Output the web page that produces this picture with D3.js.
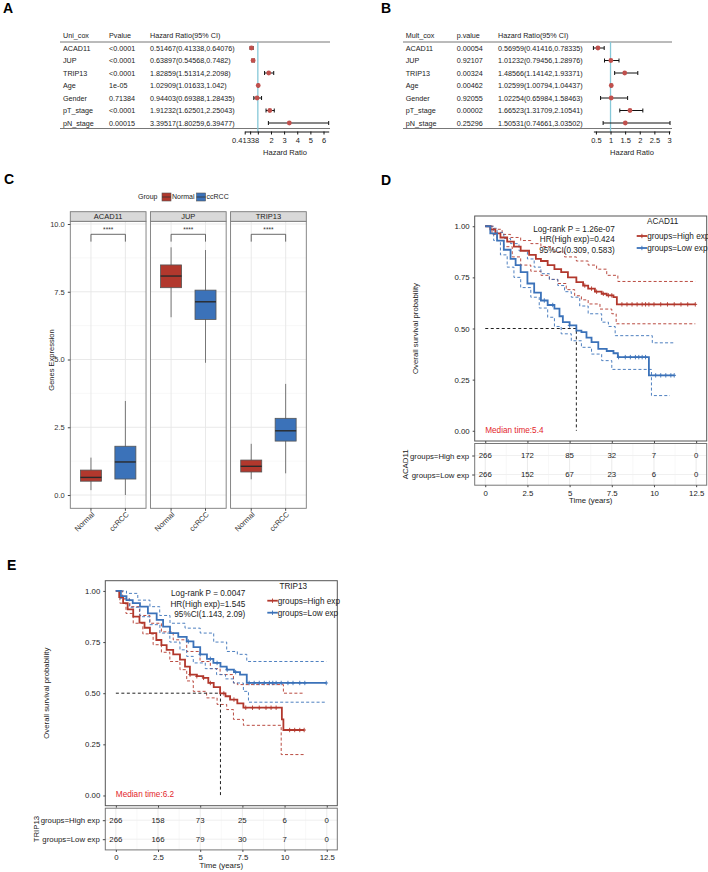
<!DOCTYPE html>
<html>
<head>
<meta charset="utf-8">
<script src="https://cdn.jsdelivr.net/npm/d3@7"></script>
<style>
body { margin: 0; background: #fff; }
text { font-family: "Liberation Sans", Arial, sans-serif; }
</style>
</head>
<body>
<div id="canvas"></div>
<script>
// ---- panel A / B: cox tables ----
var coxRows = ['ACAD11', 'JUP', 'TRIP13', 'Age', 'Gender', 'pT_stage', 'pN_stage'];
var uniP = ['<0.0001', '<0.0001', '<0.0001', '1e-05', '0.71384', '<0.0001', '0.00015'];
var uniHR = [0.51467, 0.63897, 1.82859, 1.02909, 0.94403, 1.91232, 3.39517];
var uniLo = [0.41338, 0.54568, 1.51314, 1.01633, 0.69388, 1.62501, 1.80259];
var uniHi = [0.64076, 0.7482, 2.2098, 1.042, 1.28435, 2.25043, 6.39477];
var uniTicks = [0, 0.41338, 1, 2, 3, 4, 5, 6];
var multP = ['0.00054', '0.92107', '0.00324', '0.00462', '0.92055', '0.00002', '0.25296'];
var multHR = [0.56959, 1.01232, 1.48566, 1.02599, 1.02254, 1.66523, 1.50531];
var multLo = [0.41416, 0.79456, 1.14142, 1.00794, 0.65984, 1.31709, 0.74661];
var multHi = [0.78335, 1.28976, 1.93371, 1.04437, 1.58463, 2.10541, 3.03502];
var multTicks = [0.5, 1, 1.5, 2, 2.5, 3];

// ---- panel C: boxplots ----
var genes = ['ACAD11', 'JUP', 'TRIP13'];
var groups = ['Normal', 'ccRCC'];
var boxLow = [[0.18, 0.00], [6.56, 4.88], [0.58, 0.80]];
var boxQ1 = [[0.51, 0.59], [7.65, 6.48], [0.85, 1.99]];
var boxMed = [[0.65, 1.22], [8.08, 7.13], [1.06, 2.37]];
var boxQ3 = [[0.92, 1.80], [8.49, 7.56], [1.29, 2.83]];
var boxHigh = [[1.38, 3.47], [9.14, 9.04], [1.89, 4.10]];
var sigLabels = ['****', '****', '****'];
var exprTicks = [0, 2.5, 5, 7.5, 10];

// ---- panel D / E: survival ----
var timeTicks = [0, 2.5, 5, 7.5, 10, 12.5];
var survTicks = [0, 0.25, 0.5, 0.75, 1];
var riskGroups = ['groups=High exp', 'groups=Low exp'];

var acadHigh = [[0,1],[0.3,0.985],[0.6,0.965],[0.9,0.945],[1.3,0.925],[1.7,0.9],[2.1,0.88],[2.6,0.86],[3.0,0.84],[3.3,0.83],[3.7,0.81],[4.1,0.79],[4.5,0.776],[4.9,0.75],[5.4,0.727],[5.8,0.71],[6.1,0.695],[6.5,0.68],[6.9,0.67],[7.2,0.662],[7.6,0.653],[7.8,0.618],[12.45,0.618]];
var acadHighUp = [[0,1],[0.5,0.985],[1.0,0.96],[1.5,0.945],[2.1,0.93],[2.7,0.915],[3.3,0.9],[4.0,0.875],[4.7,0.85],[5.4,0.83],[6.1,0.81],[6.6,0.79],[7.2,0.76],[7.86,0.73],[12.45,0.73]];
var acadHighLo = [[0,1],[0.4,0.96],[0.7,0.93],[1.1,0.9],[1.6,0.85],[2.1,0.81],[2.7,0.78],[3.3,0.76],[3.8,0.74],[4.3,0.72],[4.8,0.69],[5.3,0.66],[5.7,0.64],[6.1,0.62],[6.8,0.595],[7.5,0.572],[7.76,0.523],[12.45,0.523]];
var acadLow = [[0,1],[0.3,0.965],[0.7,0.93],[1.1,0.885],[1.5,0.84],[1.8,0.81],[2.1,0.776],[2.5,0.72],[2.9,0.675],[3.3,0.637],[3.7,0.615],[4.1,0.597],[4.4,0.56],[4.6,0.531],[5.0,0.515],[5.4,0.49],[5.7,0.482],[6.0,0.455],[6.3,0.433],[6.7,0.4],[7.2,0.39],[7.6,0.379],[7.86,0.36],[9.7,0.271],[11.2,0.271]];
var acadLowUp = [[0,1],[0.3,0.99],[0.7,0.97],[1.1,0.94],[1.5,0.915],[2.0,0.88],[2.5,0.84],[2.9,0.8],[3.3,0.768],[3.8,0.74],[4.3,0.71],[4.7,0.68],[5.1,0.653],[5.6,0.61],[6.1,0.572],[6.9,0.531],[7.3,0.51],[7.7,0.465],[9.9,0.43],[11.2,0.43]];
var acadLowLo = [[0,1],[0.5,0.93],[0.9,0.86],[1.3,0.8],[1.7,0.75],[2.1,0.7],[2.7,0.653],[3.2,0.6],[3.7,0.555],[4.1,0.51],[4.5,0.474],[5.1,0.44],[5.7,0.408],[6.3,0.375],[6.9,0.343],[7.5,0.3],[9.85,0.172],[10.94,0.172]];
var acadHighCens = [5.9, 6.3, 6.6, 7.0, 7.3, 7.5, 8.1, 8.4, 8.7, 9.0, 9.3, 9.5, 9.7, 10.0, 10.4, 10.8, 11.2, 11.6, 12.0, 12.45];
var acadLowCens = [3.5, 4.0, 5.0, 7.9, 8.3, 8.6, 8.9, 9.1, 9.3, 9.5, 10.1, 10.4, 10.7, 11.0, 11.2];
var acadRiskHigh = [266, 172, 85, 32, 7, 0];
var acadRiskLow = [266, 152, 67, 23, 6, 0];
var acadStats = ['Log-rank P = 1.26e-07', 'HR(High exp)=0.424', '95%CI(0.309, 0.583)'];
var acadMedian = 5.4;

var tripHigh = [[0,1],[0.2,0.97],[0.43,0.94],[0.7,0.91],[1.03,0.874],[1.4,0.845],[1.7,0.82],[2.02,0.794],[2.4,0.76],[2.7,0.735],[3.01,0.712],[3.4,0.69],[3.8,0.664],[4.1,0.63],[4.39,0.591],[4.8,0.583],[5.18,0.575],[5.48,0.55],[5.8,0.53],[6.18,0.499],[6.5,0.485],[6.77,0.469],[7.2,0.45],[7.56,0.429],[9.84,0.372],[9.93,0.32],[11.16,0.32]];
var tripHighUp = [[0,1],[0.4,0.96],[0.83,0.923],[1.4,0.88],[2.02,0.842],[2.7,0.8],[3.4,0.761],[4.2,0.704],[4.99,0.655],[5.6,0.62],[6.18,0.591],[6.97,0.55],[7.2,0.542],[9.93,0.5],[11.16,0.5]];
var tripHighLo = [[0,1],[0.24,0.94],[0.6,0.89],[1.03,0.842],[1.6,0.79],[2.21,0.737],[2.7,0.7],[3.2,0.655],[3.8,0.615],[4.2,0.56],[4.59,0.509],[5.38,0.477],[6.0,0.445],[6.57,0.42],[6.97,0.372],[7.56,0.343],[9.8,0.2],[11.16,0.2]];
var tripLow = [[0,1],[0.3,0.975],[0.63,0.955],[1.0,0.94],[1.43,0.923],[1.9,0.89],[2.42,0.858],[2.8,0.825],[3.21,0.794],[3.7,0.775],[4.2,0.753],[4.6,0.725],[5.0,0.69],[5.4,0.668],[5.78,0.648],[6.2,0.63],[6.57,0.615],[7.0,0.603],[7.36,0.591],[7.76,0.55],[12.47,0.55]];
var tripLowUp = [[0,1],[0.63,0.988],[1.3,0.955],[2.02,0.923],[2.6,0.88],[3.21,0.842],[4.1,0.818],[5.0,0.794],[5.8,0.75],[6.57,0.704],[7.2,0.69],[7.76,0.655],[12.47,0.655]];
var tripLowLo = [[0,1],[0.24,0.964],[0.8,0.92],[1.43,0.874],[2.0,0.835],[2.61,0.794],[3.2,0.75],[3.8,0.712],[4.2,0.68],[4.59,0.648],[5.3,0.62],[5.97,0.591],[6.5,0.57],[6.97,0.55],[7.56,0.509],[7.86,0.456],[12.47,0.456]];
var tripHighCens = [4.4, 4.8, 5.2, 5.6, 6.4, 7.0, 7.7, 8.1, 8.5, 8.9, 9.2, 9.5, 10.3, 10.6, 10.9, 11.16];
var tripLowCens = [4.3, 5.0, 5.6, 6.0, 6.6, 7.1, 7.9, 8.2, 8.5, 8.8, 9.1, 9.3, 9.5, 9.8, 10.2, 10.5, 10.9, 11.2, 12.47];
var tripRiskHigh = [266, 158, 73, 25, 6, 0];
var tripRiskLow = [266, 166, 79, 30, 7, 0];
var tripStats = ['Log-rank P = 0.0047', 'HR(High exp)=1.545', '95%CI(1.143, 2.09)'];
var tripMedian = 6.2;

var RED = '#B2382D', BLUE = '#3B72B9';

var svg = d3.select('#canvas').append('svg')
    .attr('width', 708)
    .attr('height', 872);

svg.append('rect').attr('width', 708).attr('height', 872).attr('fill', '#fff');

// panel letters
[['A', 3, 13], ['B', 381, 13], ['C', 4, 184], ['D', 381, 185], ['E', 7, 570]].forEach(function(l) {
    svg.append('text').attr('x', l[1]).attr('y', l[2])
        .attr('font-size', '14px').attr('font-weight', 'bold').text(l[0]);
});

// ---------- forest plots ----------
function forest(cfg) {
    var g = svg.append('g');
    var y = d3.scalePoint().domain(coxRows).range([48, 123]);
    var x = d3.scaleLinear().domain(cfg.domain).range(cfg.range);

    g.append('line').attr('x1', cfg.lineX[0]).attr('x2', cfg.lineX[1])
        .attr('y1', 42).attr('y2', 42).attr('stroke', '#777').attr('stroke-width', 1);
    g.append('line').attr('x1', cfg.lineX[0]).attr('x2', cfg.lineX[1])
        .attr('y1', 128.5).attr('y2', 128.5).attr('stroke', '#777').attr('stroke-width', 1);

    cfg.header.forEach(function(h, i) {
        g.append('text').attr('x', cfg.cols[i]).attr('y', 37.5)
            .attr('font-size', '7.2px').attr('fill', '#222').text(h);
    });

    coxRows.forEach(function(r, i) {
        var cells = [r, cfg.p[i], cfg.hr[i] + '(' + cfg.lo[i] + ',' + cfg.hi[i] + ')'];
        cells.forEach(function(c, j) {
            g.append('text').attr('x', cfg.cols[j]).attr('y', y(r)).attr('dy', '0.35em')
                .attr('font-size', '7.2px').attr('fill', '#222').text(c);
        });
    });

    // reference line at HR = 1
    g.append('line').attr('x1', x(1)).attr('x2', x(1)).attr('y1', 42).attr('y2', 131.5)
        .attr('stroke', '#86C8D8').attr('stroke-width', 1.3);

    coxRows.forEach(function(r, i) {
        var yy = y(r);
        g.append('line').attr('x1', x(cfg.lo[i])).attr('x2', x(cfg.hi[i]))
            .attr('y1', yy).attr('y2', yy).attr('stroke', '#111').attr('stroke-width', 1);
        [cfg.lo[i], cfg.hi[i]].forEach(function(v) {
            g.append('line').attr('x1', x(v)).attr('x2', x(v))
                .attr('y1', yy - 2).attr('y2', yy + 2).attr('stroke', '#111').attr('stroke-width', 1);
        });
        g.append('circle').attr('cx', x(cfg.hr[i])).attr('cy', yy).attr('r', 2.4)
            .attr('fill', '#C0504D');
    });

    var axis = g.append('g').attr('transform', 'translate(0,131.5)')
        .call(d3.axisBottom(x).tickValues(cfg.ticks).tickSize(3).tickSizeOuter(0)
            .tickFormat(cfg.fmt));
    axis.select('.domain').attr('stroke', '#111');
    axis.selectAll('.tick line').attr('stroke', '#111');
    axis.selectAll('text').attr('font-size', '7.5px').attr('fill', '#222')
        .attr('font-family', '"Liberation Sans", Arial, sans-serif');
    axis.selectAll('text').filter(function(d) { return d === 0.41338; }).attr('dx', '-5');

    g.append('text').attr('x', cfg.titleX).attr('y', 155).attr('text-anchor', 'middle')
        .attr('font-size', '7.5px').attr('fill', '#222').text('Hazard Ratio');
}

forest({
    header: ['Uni_cox', 'Pvalue', 'Hazard Ratio(95% CI)'],
    cols: [63, 109, 150], lineX: [60, 330],
    p: uniP, hr: uniHR, lo: uniLo, hi: uniHi,
    domain: [0, 6.39477], range: [244.7, 328.7],
    ticks: uniTicks,
    fmt: function(d) { return (d === 0 || d === 1) ? '' : d; },
    titleX: 285
});

forest({
    header: ['Mult_cox', 'p.value', 'Hazard Ratio(95% CI)'],
    cols: [405.7, 456.7, 498], lineX: [403, 672],
    p: multP, hr: multHR, lo: multLo, hi: multHi,
    domain: [0.41416, 3.03502], range: [593.4, 670],
    ticks: multTicks,
    fmt: function(d) { return d; },
    titleX: 632
});

// ---------- panel C: boxplots ----------
(function() {
    var g = svg.append('g');
    var cY = d3.scaleLinear().domain([-0.49, 10.1]).range([508.3, 221.3]);
    var facet = d3.scaleBand().domain(genes).range([70.3, 306.3]).paddingInner(0.055);
    var cX = d3.scalePoint().domain(groups).range([0, facet.bandwidth()]).padding(0.6);
    var color = d3.scaleOrdinal().domain(groups).range([RED, BLUE]);
    var boxW = 21;

    // legend
    g.append('text').attr('x', 138).attr('y', 197).attr('dy', '0.35em')
        .attr('font-size', '7px').attr('fill', '#222').text('Group');
    var lx = 162;
    groups.forEach(function(gr) {
        g.append('rect').attr('x', lx).attr('y', 193).attr('width', 9).attr('height', 8)
            .attr('fill', color(gr)).attr('stroke', '#555').attr('stroke-width', 0.6);
        g.append('line').attr('x1', lx).attr('x2', lx + 9).attr('y1', 197).attr('y2', 197)
            .attr('stroke', '#333').attr('stroke-width', 0.8);
        var tx = g.append('text').attr('x', lx + 10).attr('y', 197).attr('dy', '0.35em')
            .attr('font-size', '7px').attr('fill', '#222').text(gr);
        lx += 10 + tx.node().getComputedTextLength() + 2;
    });

    genes.forEach(function(gene, gi) {
        var x0 = facet(gene), bw = facet.bandwidth();
        var p = g.append('g').attr('transform', 'translate(' + x0 + ',0)');
        // minor grid
        [1.25, 3.75, 6.25, 8.75].forEach(function(v) {
            p.append('line').attr('x1', 0).attr('x2', bw).attr('y1', cY(v)).attr('y2', cY(v))
                .attr('stroke', '#F3F3F3').attr('stroke-width', 0.6);
        });
        exprTicks.forEach(function(v) {
            p.append('line').attr('x1', 0).attr('x2', bw).attr('y1', cY(v)).attr('y2', cY(v))
                .attr('stroke', '#E6E6E6').attr('stroke-width', 0.9);
        });
        groups.forEach(function(gr) {
            p.append('line').attr('x1', cX(gr)).attr('x2', cX(gr)).attr('y1', 221.3).attr('y2', 508.3)
                .attr('stroke', '#E6E6E6').attr('stroke-width', 0.9);
        });

        groups.forEach(function(gr, k) {
            var cx = cX(gr);
            p.append('line').attr('x1', cx).attr('x2', cx)
                .attr('y1', cY(boxLow[gi][k])).attr('y2', cY(boxHigh[gi][k]))
                .attr('stroke', '#777').attr('stroke-width', 1);
            p.append('rect').attr('x', cx - boxW / 2).attr('width', boxW)
                .attr('y', cY(boxQ3[gi][k])).attr('height', cY(boxQ1[gi][k]) - cY(boxQ3[gi][k]))
                .attr('fill', color(gr)).attr('stroke', '#555').attr('stroke-width', 0.8);
            p.append('line').attr('x1', cx - boxW / 2).attr('x2', cx + boxW / 2)
                .attr('y1', cY(boxMed[gi][k])).attr('y2', cY(boxMed[gi][k]))
                .attr('stroke', '#2a2a2a').attr('stroke-width', 1.4);
        });

        // significance bracket
        var a = cX(groups[0]), b = cX(groups[1]);
        p.append('path')
            .attr('d', 'M' + a + ',' + cY(9.35) + 'V' + cY(9.62) + 'H' + b + 'V' + cY(9.35))
            .attr('fill', 'none').attr('stroke', '#444').attr('stroke-width', 0.8);
        p.append('text').attr('x', (a + b) / 2).attr('y', cY(9.8)).attr('dy', '0.35em')
            .attr('text-anchor', 'middle').attr('font-size', '6.5px').attr('fill', '#333')
            .text(sigLabels[gi]);

        // panel border + strip
        p.append('rect').attr('x', 0).attr('y', 221.3).attr('width', bw).attr('height', 287)
            .attr('fill', 'none').attr('stroke', '#7a7a7a').attr('stroke-width', 0.9);
        p.append('rect').attr('x', 0).attr('y', 211.7).attr('width', bw).attr('height', 9.6)
            .attr('fill', '#D9D9D9').attr('stroke', '#7a7a7a').attr('stroke-width', 0.9);
        p.append('text').attr('x', bw / 2).attr('y', 216.5).attr('dy', '0.35em')
            .attr('text-anchor', 'middle').attr('font-size', '7.5px').attr('fill', '#222').text(gene);

        // rotated x labels
        groups.forEach(function(gr) {
            p.append('line').attr('x1', cX(gr)).attr('x2', cX(gr)).attr('y1', 508.3).attr('y2', 510.8)
                .attr('stroke', '#444');
            p.append('text').attr('transform', 'translate(' + (cX(gr) + 2) + ',513) rotate(-45)')
                .attr('text-anchor', 'end').attr('dy', '0.35em')
                .attr('font-size', '7.5px').attr('fill', '#333').text(gr);
        });
    });

    var ax = g.append('g').attr('transform', 'translate(70.3,0)')
        .call(d3.axisLeft(cY).tickValues(exprTicks).tickSize(2.5).tickFormat(d3.format('.1f')));
    ax.select('.domain').remove();
    ax.selectAll('.tick line').attr('stroke', '#444');
    ax.selectAll('text').attr('font-size', '7.5px').attr('fill', '#333')
        .attr('font-family', '"Liberation Sans", Arial, sans-serif');

    g.append('text').attr('transform', 'translate(51,360) rotate(-90)')
        .attr('text-anchor', 'middle').attr('dy', '0.35em')
        .attr('font-size', '7.5px').attr('fill', '#222').text('Genes Expression');
})();

// ---------- survival panels ----------
function drawKM(cfg) {
    var w = 232, h = 225;
    var g = svg.append('g').attr('transform', 'translate(' + cfg.left + ',' + cfg.top + ')');
    var x = d3.scaleLinear().domain([-0.625, 13.125]).range([0, w]);
    var y = d3.scaleLinear().domain([-0.05, 1.05]).range([h, 0]);
    var line = d3.line().curve(d3.curveStepAfter)
        .x(function(d) { return x(d[0]); })
        .y(function(d) { return y(d[1]); });

    function stepAt(curve, t) {
        var s = curve[0][1];
        curve.forEach(function(d) { if (d[0] <= t) s = d[1]; });
        return s;
    }

    // confidence bands
    [[cfg.highUp, RED], [cfg.highLo, RED], [cfg.lowUp, BLUE], [cfg.lowLo, BLUE]].forEach(function(c) {
        g.append('path').attr('d', line(c[0])).attr('fill', 'none')
            .attr('stroke', c[1]).attr('stroke-width', 1).attr('stroke-dasharray', '3,2.2')
            .attr('opacity', 0.9);
    });

    // median lines
    g.append('path')
        .attr('d', 'M' + x(0) + ',' + y(0.5) + 'H' + x(cfg.median) + 'V' + y(0))
        .attr('fill', 'none').attr('stroke', '#222').attr('stroke-width', 1)
        .attr('stroke-dasharray', '3,2.5');

    [[cfg.high, cfg.highCens, RED], [cfg.low, cfg.lowCens, BLUE]].forEach(function(c) {
        g.append('path').attr('d', line(c[0])).attr('fill', 'none')
            .attr('stroke', c[2]).attr('stroke-width', 1.8);
        c[1].forEach(function(t) {
            var cx = x(t), cy = y(stepAt(c[0], t));
            g.append('path').attr('d', 'M' + (cx - 1.8) + ',' + cy + 'h3.6M' + cx + ',' + (cy - 2.2) + 'v4.4')
                .attr('stroke', c[2]).attr('stroke-width', 0.9);
        });
    });

    g.append('rect').attr('width', w).attr('height', h).attr('fill', 'none')
        .attr('stroke', '#555').attr('stroke-width', 1);

    var ya = g.append('g')
        .call(d3.axisLeft(y).tickValues(survTicks).tickSize(2).tickFormat(d3.format('.2f')));
    ya.select('.domain').remove();
    ya.selectAll('.tick line').attr('stroke', '#444');
    ya.selectAll('text').attr('font-size', '7.8px').attr('fill', '#222')
        .attr('font-family', '"Liberation Sans", Arial, sans-serif');

    var xb = g.append('g').attr('transform', 'translate(0,' + h + ')')
        .call(d3.axisBottom(x).tickValues(timeTicks).tickSize(2).tickFormat(''));
    xb.select('.domain').remove();
    xb.selectAll('.tick line').attr('stroke', '#444');

    g.append('text').attr('transform', 'translate(-59,' + (h / 2) + ') rotate(-90)')
        .attr('text-anchor', 'middle').attr('dy', '0.35em')
        .attr('font-size', '7.8px').attr('fill', '#222').text('Overall survival probability');

    // stats text
    cfg.stats.forEach(function(s, i) {
        g.append('text').attr('x', 140).attr('y', 12.8 + i * 10.5).attr('dy', '0.35em')
            .attr('text-anchor', 'end').attr('font-size', '8.2px').attr('fill', '#222').text(s);
    });

    // legend
    g.append('text').attr('x', 188).attr('y', 5.5).attr('dy', '0.35em').attr('text-anchor', 'middle')
        .attr('font-size', '8.2px').attr('fill', '#222').text(cfg.gene);
    [RED, BLUE].forEach(function(col, i) {
        var ly = 20 + i * 12;
        g.append('line').attr('x1', 162).attr('x2', 172.5).attr('y1', ly).attr('y2', ly)
            .attr('stroke', col).attr('stroke-width', 1.8);
        g.append('path').attr('d', 'M167.2,' + (ly - 2.2) + 'v4.4').attr('stroke', col).attr('stroke-width', 0.9);
        g.append('text').attr('x', 172.5).attr('y', ly).attr('dy', '0.35em')
            .attr('font-size', '8.2px').attr('fill', '#222').text(riskGroups[i]);
    });

    g.append('text').attr('x', x(0)).attr('y', y(0) - 1).attr('dy', '0.35em')
        .attr('font-size', '8.2px').attr('fill', '#E3262B').text('Median time:' + cfg.median);

    // risk table
    var tt = h + 2.5, th = 41.7;
    var t = g.append('g').attr('transform', 'translate(0,' + tt + ')');
    var ry = d3.scalePoint().domain(riskGroups).range([12, 31]);
    [1.25, 3.75, 6.25, 8.75, 11.25].forEach(function(v) {
        t.append('line').attr('x1', x(v)).attr('x2', x(v)).attr('y1', 0).attr('y2', th)
            .attr('stroke', '#F3F3F3').attr('stroke-width', 0.6);
    });
    timeTicks.forEach(function(v) {
        t.append('line').attr('x1', x(v)).attr('x2', x(v)).attr('y1', 0).attr('y2', th)
            .attr('stroke', '#E8E8E8').attr('stroke-width', 0.9);
    });
    riskGroups.forEach(function(r) {
        t.append('line').attr('x1', 0).attr('x2', w).attr('y1', ry(r)).attr('y2', ry(r))
            .attr('stroke', '#EEEEEE').attr('stroke-width', 0.9);
    });
    [cfg.riskHigh, cfg.riskLow].forEach(function(vals, i) {
        vals.forEach(function(v, j) {
            t.append('text').attr('x', x(timeTicks[j])).attr('y', ry(riskGroups[i])).attr('dy', '0.35em')
                .attr('text-anchor', 'middle').attr('font-size', '7.8px').attr('fill', '#222').text(v);
        });
    });
    t.append('rect').attr('width', w).attr('height', th).attr('fill', 'none')
        .attr('stroke', '#777').attr('stroke-width', 1);
    var ra = t.append('g').call(d3.axisLeft(ry).tickSize(2.5));
    ra.select('.domain').remove();
    ra.selectAll('.tick line').attr('stroke', '#444');
    ra.selectAll('text').attr('font-size', '7.8px').attr('fill', '#222')
        .attr('font-family', '"Liberation Sans", Arial, sans-serif');
    t.append('text').attr('transform', 'translate(-69,' + (th / 2) + ') rotate(-90)')
        .attr('text-anchor', 'middle').attr('dy', '0.35em')
        .attr('font-size', '7.8px').attr('fill', '#222').text(cfg.gene);

    var xa = t.append('g').attr('transform', 'translate(0,' + th + ')')
        .call(d3.axisBottom(x).tickValues(timeTicks).tickSize(2).tickFormat(function(d) { return d; }));
    xa.select('.domain').remove();
    xa.selectAll('.tick line').attr('stroke', '#444');
    xa.selectAll('text').attr('font-size', '7.8px').attr('fill', '#222')
        .attr('font-family', '"Liberation Sans", Arial, sans-serif');
    t.append('text').attr('x', w / 2).attr('y', th + 18).attr('text-anchor', 'middle')
        .attr('font-size', '7.8px').attr('fill', '#222').text('Time (years)');
}

drawKM({
    left: 474.7, top: 216, gene: 'ACAD11',
    high: acadHigh, highUp: acadHighUp, highLo: acadHighLo, highCens: acadHighCens,
    low: acadLow, lowUp: acadLowUp, lowLo: acadLowLo, lowCens: acadLowCens,
    riskHigh: acadRiskHigh, riskLow: acadRiskLow, stats: acadStats, median: acadMedian
});

drawKM({
    left: 105.3, top: 580.7, gene: 'TRIP13',
    high: tripHigh, highUp: tripHighUp, highLo: tripHighLo, highCens: tripHighCens,
    low: tripLow, lowUp: tripLowUp, lowLo: tripLowLo, lowCens: tripLowCens,
    riskHigh: tripRiskHigh, riskLow: tripRiskLow, stats: tripStats, median: tripMedian
});
</script>
</body>
</html>
